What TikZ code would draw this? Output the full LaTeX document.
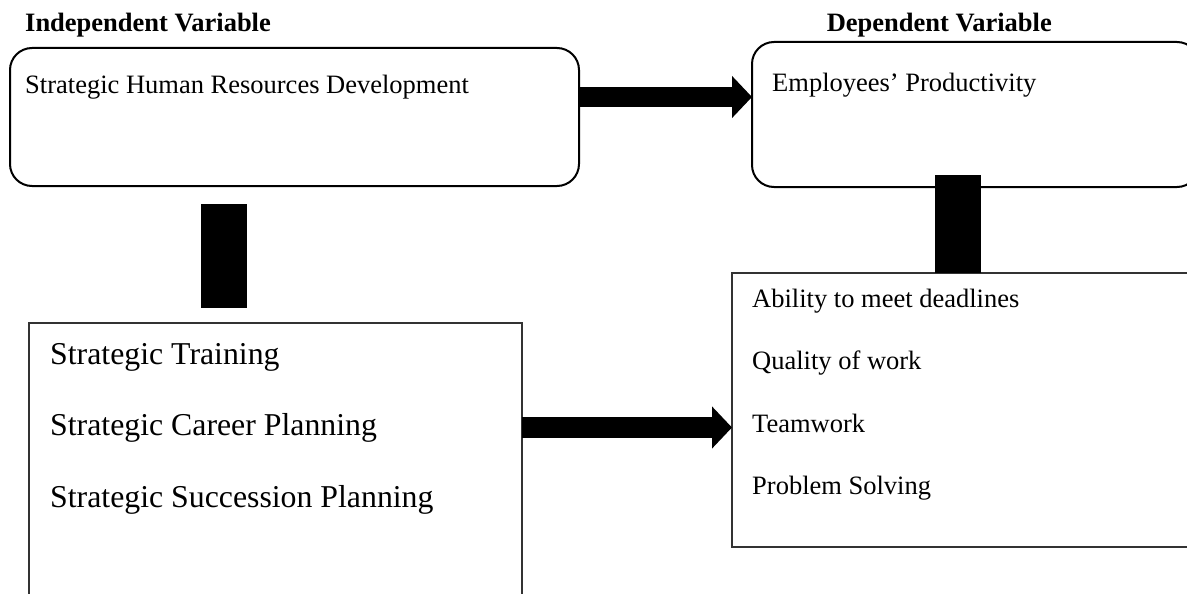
\documentclass[tikz,border=0pt]{standalone}
\usepackage{fontspec}
\setmainfont{Liberation Serif}
\usetikzlibrary{arrows.meta,calc}

\tikzset{
  body/.style={font=\fontsize{26.5}{30}\selectfont},
  big/.style={font=\fontsize{31.8}{36}\selectfont},
  head/.style={font=\fontsize{26.5}{30}\selectfont\bfseries},
  roundbox/.style={draw=black, line width=2pt, rounded corners=22pt,
    inner sep=0pt, outer sep=0pt, anchor=north west},
  plainbox/.style={draw=black!80, line width=1.2pt,
    inner sep=0pt, outer sep=0pt, anchor=north west},
  blockarrow/.style={line width=20.5pt,
    -{Triangle[length=20pt,width=41pt]}},
  barline/.style={line width=46pt, line cap=butt},
}

\begin{document}
\begin{tikzpicture}[x=1pt,y=-1pt]
  \useasboundingbox (0,0) rectangle (1187,594);
  \fill[white] (0,0) rectangle (1187,594);
  \clip (0,0) rectangle (1187,594);

  % headings
  \node[head, anchor=base west, inner sep=0pt] (hind) at (25,32) {Independent Variable};
  \node[head, anchor=base east, inner sep=0pt] (hdep) at (1052,32) {Dependent Variable};

  % main variable boxes
  \node[roundbox, minimum width=569pt, minimum height=138pt] (srhd) at (10,48) {};
  \node[roundbox, minimum width=447pt, minimum height=145pt] (prod) at (752,42) {};
  \node[body, anchor=base west, inner sep=0pt] (srhdtxt) at (25,93)
    {Strategic Human Resources Development};
  \node[body, anchor=base west, inner sep=0pt] (prodtxt) at (772,92)
    {Employees’ Productivity};

  % dimension boxes
  \node[plainbox, minimum width=493pt, minimum height=300pt] (dims) at (29,323) {};
  \node[plainbox, minimum width=470pt, minimum height=274pt] (outs) at (732,273) {};

  \node[big, anchor=base west, inner sep=0pt] (d1) at (50,364) {Strategic Training};
  \node[big, anchor=base west, inner sep=0pt] (d2) at (50,435) {Strategic Career Planning};
  \node[big, anchor=base west, inner sep=0pt] (d3) at (50,507) {Strategic Succession Planning};

  \node[body, anchor=base west, inner sep=0pt] (o1) at (752,307) {Ability to meet deadlines};
  \node[body, anchor=base west, inner sep=0pt] (o2) at (752,369) {Quality of work};
  \node[body, anchor=base west, inner sep=0pt] (o3) at (752,432) {Teamwork};
  \node[body, anchor=base west, inner sep=0pt] (o4) at (752,494) {Problem Solving};

  % block arrows between boxes
  \draw[blockarrow] ([yshift=-49pt]srhd.north east)
    -- ([yshift=-49pt]srhd.north east -| prod.west);
  \draw[blockarrow] ([yshift=-104.5pt]dims.north east)
    -- ([yshift=-104.5pt]dims.north east -| outs.west);

  % vertical bars linking each variable to its dimensions
  \draw[barline] ([xshift=214pt,yshift=-18pt]srhd.south west)
    -- ([xshift=195pt,yshift=15pt]dims.north west);
  \draw[barline] ([xshift=206pt,yshift=12pt]prod.south west)
    -- ([xshift=226pt]outs.north west);
\end{tikzpicture}
\end{document}
